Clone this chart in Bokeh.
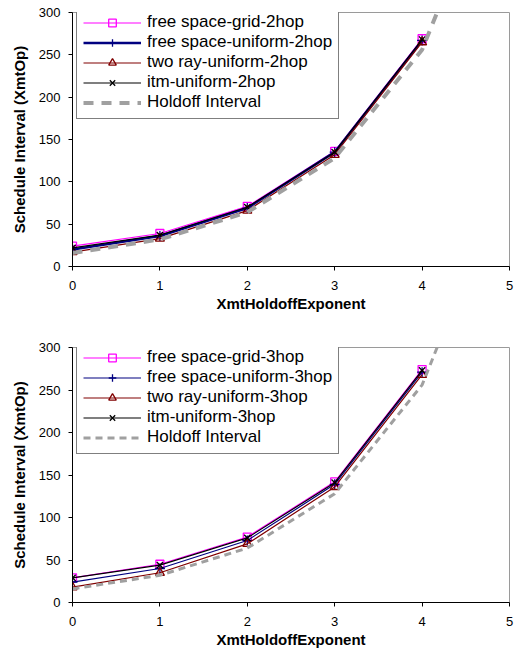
from bokeh.plotting import figure
from bokeh.layouts import column
from bokeh.models import Range1d, FixedTicker, Legend, LegendItem
from bokeh.embed import file_html
from bokeh.resources import INLINE

# ---- data ----
exponent = [0, 1, 2, 3, 4]
holdoff_exponent = [0, 1, 2, 3, 4, 5]
holdoff_interval = [16, 32, 64, 128, 256, 512]

labels_2hop = ["free space-grid-2hop", "free space-uniform-2hop",
               "two ray-uniform-2hop", "itm-uniform-2hop", "Holdoff Interval"]
grid_2hop = [24, 39, 71, 136, 269]
fs_uniform_2hop = [20, 36, 69, 135, 267]
tworay_2hop = [17, 33, 66, 132, 265]
itm_2hop = [22, 37, 70, 135, 268]

labels_3hop = ["free space-grid-3hop", "free space-uniform-3hop",
               "two ray-uniform-3hop", "itm-uniform-3hop", "Holdoff Interval"]
grid_3hop = [29, 45, 77, 142, 274]
fs_uniform_3hop = [24, 40, 73, 139, 271]
tworay_3hop = [18, 35, 69, 136, 268]
itm_3hop = [29, 44, 76, 141, 273]

x_ticks = [0, 1, 2, 3, 4, 5]
y_ticks = [0, 50, 100, 150, 200, 250, 300]

FONT = "Liberation Sans"


def make_chart(series, labels, height, border_top, border_bottom, border_left,
               border_right, navy_width, dash, dash_width, legend_y):
    p = figure(width=516, height=height, output_backend="svg", toolbar_location=None,
               x_range=Range1d(0, 5), y_range=Range1d(0, 300),
               min_border_top=border_top, min_border_bottom=border_bottom,
               min_border_left=border_left, min_border_right=border_right)
    p.background_fill_color = "white"
    p.border_fill_color = "white"
    p.xgrid.visible = False
    p.ygrid.visible = False
    p.outline_line_color = "#9a9a9a"
    p.outline_line_width = 1

    styles = [
        dict(color="#FF00FF", marker="square", width=1.2, size=8),
        dict(color="#000080", marker="cross", width=navy_width, size=10),
        dict(color="#800000", marker="triangle", width=1.2, size=9),
        dict(color="#000000", marker="x", width=1.2, size=9),
    ]
    items = []
    for ys, lab, st in zip(series, labels[:4], styles):
        lr = p.line(exponent, ys, line_color=st["color"], line_width=st["width"])
        sr = p.scatter(exponent, ys, marker=st["marker"], size=st["size"],
                       line_color=st["color"], fill_alpha=0, line_width=1.3)
        items.append(LegendItem(label=lab, renderers=[lr, sr]))
    hr = p.line(holdoff_exponent, holdoff_interval, line_color="#a0a0a0",
                line_width=dash_width, line_dash=dash)
    items.append(LegendItem(label=labels[4], renderers=[hr]))

    legend = Legend(items=items, location=(4, legend_y), margin=0, padding=6,
                    spacing=0, glyph_width=58, glyph_height=19, label_height=19,
                    label_standoff=6, label_text_font=FONT,
                    label_text_font_size="17px", label_text_color="black",
                    border_line_color="black", border_line_width=1,
                    background_fill_color="white", background_fill_alpha=1)
    p.add_layout(legend, "center")

    p.xaxis.ticker = FixedTicker(ticks=x_ticks)
    p.yaxis.ticker = FixedTicker(ticks=y_ticks)
    for ax in (p.xaxis, p.yaxis):
        ax.major_tick_out = 4
        ax.major_tick_in = 0
        ax.minor_tick_line_color = None
        ax.axis_line_color = "black"
        ax.major_tick_line_color = "black"
        ax.major_label_text_font = FONT
        ax.major_label_text_font_size = "13px"
        ax.major_label_text_color = "black"
        ax.axis_label_text_font = FONT
        ax.axis_label_text_font_size = "15px"
        ax.axis_label_text_font_style = "bold"
        ax.axis_label_text_color = "black"
    p.xaxis.axis_label = "XmtHoldoffExponent"
    p.yaxis.axis_label = "Schedule Interval (XmtOp)"
    p.xaxis.major_label_standoff = 10
    p.xaxis.axis_label_standoff = 2
    p.yaxis.major_label_standoff = 8
    p.yaxis.axis_label_standoff = 8
    return p


top = make_chart([grid_2hop, fs_uniform_2hop, tworay_2hop, itm_2hop], labels_2hop,
                 height=340, border_top=12, border_bottom=74, border_left=72,
                 border_right=5, navy_width=2.6, dash="10 8", dash_width=4,
                 legend_y=147)
bottom = make_chart([grid_3hop, fs_uniform_3hop, tworay_3hop, itm_3hop], labels_3hop,
                    height=311, border_top=7, border_bottom=49, border_left=70,
                    border_right=7, navy_width=1.2, dash="7 5", dash_width=3,
                    legend_y=148)

layout = column(top, bottom, spacing=0)
open("out.html", "w").write(file_html(layout, INLINE))
